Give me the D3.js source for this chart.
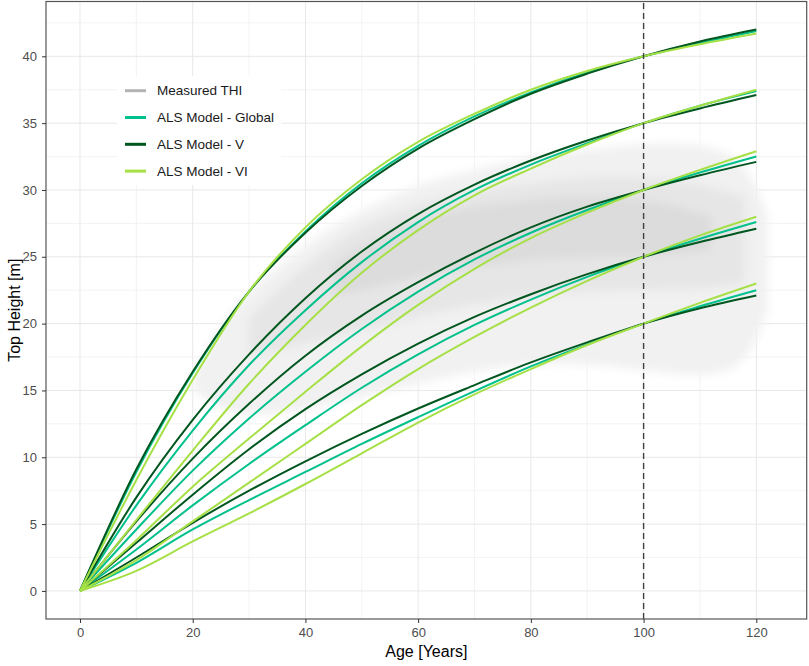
<!DOCTYPE html>
<html>
<head>
<meta charset="utf-8">
<script src="https://cdn.jsdelivr.net/npm/d3@7"></script>
<style>
  body { margin: 0; background: #fff; }
  text { font-family: "Liberation Sans", Arial, sans-serif; }
</style>
</head>
<body>
<script>
const WIDTH = 809
const HEIGHT = 666

// ages of the curves (years)
const ages = [0, 10, 20, 30, 40, 50, 60, 70, 80, 90, 100, 110, 120]

// top height [m], one array per site index (20, 25, 30, 35, 40 m at age 100)
const globalModel = [
  [0, 2.1, 4.6, 6.8, 8.9, 11.0, 13.0, 14.95, 16.8, 18.45, 20, 21.3, 22.5],
  [0, 3.1, 6.4, 9.5, 12.4, 15.2, 17.7, 19.9, 21.8, 23.5, 25, 26.35, 27.6],
  [0, 4.6, 9.0, 12.9, 16.4, 19.6, 22.4, 24.8, 26.8, 28.5, 30, 31.3, 32.5],
  [0, 6.4, 12.0, 16.9, 21.0, 24.6, 27.6, 30.0, 31.9, 33.5, 35, 36.3, 37.4],
  [0, 8.9, 16.3, 22.4, 26.9, 30.5, 33.3, 35.5, 37.3, 38.8, 40, 41.0, 41.9]
]
const modelV = [
  [0, 2.5, 5.1, 7.5, 9.7, 11.75, 13.65, 15.4, 17.1, 18.6, 20, 21.15, 22.1],
  [0, 3.6, 7.2, 10.6, 13.6, 16.2, 18.5, 20.5, 22.2, 23.7, 25, 26.1, 27.1],
  [0, 5.2, 9.9, 14.0, 17.6, 20.6, 23.1, 25.3, 27.2, 28.75, 30, 31.1, 32.1],
  [0, 7.0, 12.8, 17.7, 21.9, 25.4, 28.2, 30.4, 32.2, 33.7, 35, 36.1, 37.1],
  [0, 9.1, 16.4, 22.4, 26.8, 30.3, 33.1, 35.3, 37.2, 38.7, 40, 41.1, 42.0]
]
const modelVI = [
  [0, 1.5, 3.7, 5.8, 8.0, 10.3, 12.6, 14.7, 16.6, 18.4, 20, 21.55, 23.0],
  [0, 2.3, 5.2, 8.1, 11.0, 13.9, 16.6, 19.0, 21.2, 23.2, 25, 26.6, 28.0],
  [0, 3.8, 7.8, 11.4, 14.9, 18.3, 21.4, 24.1, 26.4, 28.3, 30, 31.5, 32.9],
  [0, 5.3, 10.5, 15.5, 19.9, 23.8, 27.0, 29.6, 31.6, 33.4, 35, 36.3, 37.5],
  [0, 8.3, 15.8, 22.4, 27.2, 30.8, 33.6, 35.7, 37.5, 38.9, 40, 40.9, 41.7]
]

// measured THI cloud, read as envelopes (outer, inner, core)
const cloudOuterAges = [20, 25, 30, 40, 50, 60, 70, 80, 90, 100, 110, 118, 122]
const cloudOuterLow  = [15, 13.5, 13, 13.5, 14.5, 15.5, 16.5, 17, 17, 16.5, 16, 16.5, 21]
const cloudOuterHigh = [16, 20, 22.5, 26, 28.5, 30.5, 31.5, 32.5, 33, 33.5, 33.5, 32.5, 28]
const cloudInnerAges = [30, 40, 50, 60, 70, 80, 90, 100, 110, 118]
const cloudInnerLow  = [17.5, 18.5, 19.5, 20.5, 21.5, 22, 22.5, 22.5, 22.5, 23]
const cloudInnerHigh = [20.5, 24.5, 27.5, 29, 30, 30.5, 31, 31, 30.5, 29.5]
const cloudCoreAges = [45, 55, 65, 75, 85, 95, 105, 112]
const cloudCoreLow  = [22, 23, 24, 24.5, 25, 25, 25, 25.5]
const cloudCoreHigh = [24.5, 27, 28.5, 29, 29.5, 29.5, 29, 28]

const xTicks = [0, 20, 40, 60, 80, 100, 120]
const yTicks = [0, 5, 10, 15, 20, 25, 30, 35, 40]
const thresholdAge = 100

const legendLabels = ["Measured THI", "ALS Model - Global", "ALS Model - V", "ALS Model - VI"]
const legendColors = ["#b3b3b3", "#00c08b", "#00561f", "#a6e046"]

const margin = {left: 46, right: 2.3, top: 1.5, bottom: 47}

const x = d3.scaleLinear()
    .domain([-6.03, 128.94])
    .range([margin.left, WIDTH - margin.right])
const y = d3.scaleLinear()
    .domain([-2.1, 44.1])
    .range([HEIGHT - margin.bottom, margin.top])

const svg = d3.select("body")
    .append("svg")
    .attr("width", WIDTH)
    .attr("height", HEIGHT)

const defs = svg.append("defs")
defs.append("filter").attr("id", "blur")
    .attr("x", "-10%").attr("y", "-10%").attr("width", "120%").attr("height", "120%")
    .append("feGaussianBlur").attr("stdDeviation", 5)
defs.append("clipPath").attr("id", "panel")
    .append("rect")
    .attr("x", x.range()[0]).attr("y", y.range()[1])
    .attr("width", x.range()[1] - x.range()[0])
    .attr("height", y.range()[0] - y.range()[1])

// grid
const grid = svg.append("g")
const minorX = d3.range(10, 130, 20)
const minorY = d3.range(2.5, 44, 5)
grid.selectAll(".mx").data(minorX).enter().append("line")
    .attr("x1", d => x(d)).attr("x2", d => x(d))
    .attr("y1", y.range()[0]).attr("y2", y.range()[1])
    .attr("stroke", "#f0f0f0").attr("stroke-width", 0.8)
grid.selectAll(".my").data(minorY).enter().append("line")
    .attr("y1", d => y(d)).attr("y2", d => y(d))
    .attr("x1", x.range()[0]).attr("x2", x.range()[1])
    .attr("stroke", "#f0f0f0").attr("stroke-width", 0.8)
grid.selectAll(".gx").data(xTicks).enter().append("line")
    .attr("x1", d => x(d)).attr("x2", d => x(d))
    .attr("y1", y.range()[0]).attr("y2", y.range()[1])
    .attr("stroke", "#e8e8e8").attr("stroke-width", 1)
grid.selectAll(".gy").data(yTicks).enter().append("line")
    .attr("y1", d => y(d)).attr("y2", d => y(d))
    .attr("x1", x.range()[0]).attr("x2", x.range()[1])
    .attr("stroke", "#e8e8e8").attr("stroke-width", 1)

// measured THI cloud
const cloud = svg.append("g").attr("clip-path", "url(#panel)").attr("filter", "url(#blur)")
const band = (a, lo, hi) => a.map((d, i) => ({age: d, lo: lo[i], hi: hi[i]}))
const area = d3.area()
    .x(d => x(d.age))
    .y0(d => y(d.lo))
    .y1(d => y(d.hi))
    .curve(d3.curveBasis)
cloud.append("path").datum(band(cloudOuterAges, cloudOuterLow, cloudOuterHigh))
    .attr("d", area).attr("fill", "#f1f1f1")
cloud.append("path").datum(band(cloudInnerAges, cloudInnerLow, cloudInnerHigh))
    .attr("d", area).attr("fill", "#e6e6e6")
cloud.append("path").datum(band(cloudCoreAges, cloudCoreLow, cloudCoreHigh))
    .attr("d", area).attr("fill", "#dcdcdc")

// model curves
const line = d3.line()
    .x((d, i) => x(ages[i]))
    .y(d => y(d))
    .curve(d3.curveMonotoneX)

const models = [globalModel, modelV, modelVI]
models.forEach((m, k) => {
    svg.append("g").selectAll("path")
        .data(m)
        .enter()
        .append("path")
        .attr("d", line)
        .attr("fill", "none")
        .attr("stroke", legendColors[k + 1])
        .attr("stroke-width", 2)
})

// dashed line at 100 years
svg.append("line")
    .attr("x1", x(thresholdAge)).attr("x2", x(thresholdAge))
    .attr("y1", y.range()[0]).attr("y2", y.range()[1])
    .attr("stroke", "#404040")
    .attr("stroke-width", 1.4)
    .attr("stroke-dasharray", "6,4")

// panel border
svg.append("rect")
    .attr("x", x.range()[0]).attr("y", y.range()[1])
    .attr("width", x.range()[1] - x.range()[0])
    .attr("height", y.range()[0] - y.range()[1])
    .attr("fill", "none")
    .attr("stroke", "#555")
    .attr("stroke-width", 1.2)

// axes
const xAxis = svg.append("g")
    .attr("transform", `translate(0,${y.range()[0]})`)
    .call(d3.axisBottom(x).tickValues(xTicks).tickSize(4).tickPadding(5))
const yAxis = svg.append("g")
    .attr("transform", `translate(${x.range()[0]},0)`)
    .call(d3.axisLeft(y).tickValues(yTicks).tickSize(4).tickPadding(5))
;[xAxis, yAxis].forEach(a => {
    a.select(".domain").remove()
    a.selectAll("line").attr("stroke", "#333")
    a.selectAll("text")
        .attr("fill", "#4d4d4d")
        .style("font-size", "13px")
        .style("font-family", "Liberation Sans, Arial, sans-serif")
})

svg.append("text")
    .text("Age [Years]")
    .attr("x", (x.range()[0] + x.range()[1]) / 2)
    .attr("y", 657)
    .attr("text-anchor", "middle")
    .style("font-size", "16px")
    .attr("fill", "#000")

svg.append("text")
    .text("Top Height [m]")
    .attr("transform", `translate(20,${(y.range()[0] + y.range()[1]) / 2}) rotate(-90)`)
    .attr("text-anchor", "middle")
    .style("font-size", "16px")
    .attr("fill", "#000")

// legend
const legend = svg.append("g")
legend.append("rect")
    .attr("x", 117).attr("y", 76)
    .attr("width", 164).attr("height", 109)
    .attr("fill", "#fff")
const items = legend.selectAll(".item")
    .data(legendLabels)
    .enter()
    .append("g")
    .attr("transform", (d, i) => `translate(0,${90.7 + i * 26.8})`)
items.append("line")
    .attr("x1", 125).attr("x2", 146)
    .attr("stroke", (d, i) => legendColors[i])
    .attr("stroke-width", 3)
items.append("text")
    .text(d => d)
    .attr("x", 157)
    .attr("dy", "0.35em")
    .style("font-size", "13.5px")
    .attr("fill", "#1a1a1a")
</script>
</body>
</html>
